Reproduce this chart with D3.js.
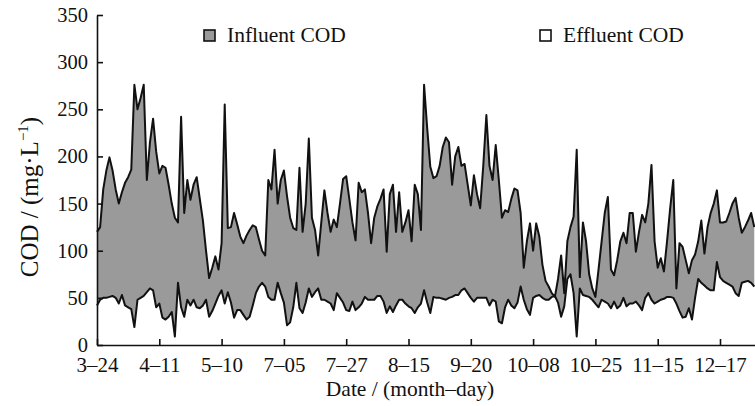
<!DOCTYPE html>
<html>
<head>
<meta charset="utf-8">
<script src="https://cdn.jsdelivr.net/npm/d3@7"></script>
<style>
  body { margin: 0; background: #fff; }
  svg { display: block; font-family: "Liberation Serif", "DejaVu Serif", serif; }
  .axis path, .axis line { stroke: #111; stroke-width: 1.6px; }
  .axis text { fill: #111; font-family: "Liberation Serif", serif; }
</style>
</head>
<body>
<div id="chart"></div>
<script>
// tick labels, one every 20 samples
const dateLabels = ['3\u201324', '4\u201311', '5\u201310', '7\u201305', '7\u201327', '8\u201315',
                    '9\u201320', '10\u201308', '10\u201325', '11\u201315', '12\u201317'];
const yTicks = [0, 50, 100, 150, 200, 250, 300, 350];

// influent COD, mg/L, one value per sample
const influent = [
  120, 125, 165, 185, 199, 185, 165, 150, 162, 172, 178, 186, 276, 250, 262, 276, 175, 215, 240, 205,
  182, 190, 188, 170, 150, 135, 130, 242, 140, 175, 154, 170, 178, 155, 132, 100, 71, 82, 94, 80,
  108, 255, 124, 125, 140, 128, 115, 108, 116, 122, 127, 125, 112, 100, 95, 175, 165, 207, 150, 175,
  185, 158, 135, 124, 122, 188, 120, 150, 219, 135, 122, 95, 130, 164, 140, 120, 133, 125, 150, 176,
  179, 155, 130, 111, 172, 162, 165, 140, 108, 135, 147, 155, 165, 99, 160, 170, 120, 162, 120, 130,
  143, 110, 170, 160, 122, 276, 230, 189, 177, 179, 190, 210, 220, 215, 170, 200, 210, 190, 192, 170,
  148, 180, 160, 145, 190, 244, 190, 175, 212, 175, 135, 143, 141, 155, 166, 164, 140, 82, 110, 129,
  100, 129, 115, 85, 68, 62, 55, 51, 70, 95, 55, 110, 125, 136, 207, 72, 130, 110, 75, 60,
  51, 80, 110, 140, 157, 80, 74, 90, 110, 119, 108, 140, 140, 99, 120, 138, 130, 150, 191, 110,
  82, 92, 78, 110, 145, 175, 60, 108, 104, 90, 76, 90, 96, 110, 132, 97, 125, 140, 150, 164,
  130, 130, 131, 140, 150, 156, 135, 119, 125, 132, 140, 125
];

// effluent COD, mg/L
const effluent = [
  42, 48, 50, 50, 51, 52, 50, 44, 53, 42, 40, 38, 19, 48, 50, 52, 56, 60, 58, 40,
  44, 29, 27, 30, 35, 9, 66, 40, 30, 48, 42, 48, 40, 39, 42, 48, 30, 36, 44, 52,
  58, 44, 56, 45, 29, 37, 37, 32, 27, 30, 42, 55, 62, 66, 62, 51, 48, 48, 66, 55,
  45, 21, 24, 40, 66, 39, 34, 45, 60, 51, 56, 60, 48, 48, 46, 44, 37, 55, 50, 45,
  37, 36, 46, 37, 40, 44, 51, 48, 48, 48, 52, 52, 46, 34, 41, 35, 42, 48, 48, 44,
  41, 39, 34, 40, 44, 58, 45, 34, 51, 50, 50, 49, 48, 50, 51, 53, 53, 58, 60, 55,
  50, 46, 50, 50, 50, 50, 42, 48, 46, 25, 23, 40, 48, 42, 39, 45, 62, 48, 38, 32,
  50, 52, 53, 50, 48, 48, 51, 52, 45, 30, 41, 70, 75, 55, 9, 60, 53, 52, 51, 48,
  44, 40, 48, 46, 44, 39, 46, 39, 42, 50, 41, 44, 44, 46, 42, 37, 50, 55, 48, 44,
  46, 48, 49, 51, 51, 50, 44, 36, 29, 30, 39, 27, 50, 70, 66, 63, 60, 58, 58, 88,
  72, 68, 66, 64, 62, 55, 52, 66, 67, 68, 66, 62
];

const width = 755;
const height = 406;
const margin = {top: 15, left: 97, bottom: 61};
const tickEvery = 20;
const plotH = height - margin.top - margin.bottom;

const svg = d3.select('#chart')
              .append('svg')
              .attr('width', width)
              .attr('height', height);

const g = svg.append('g')
             .attr('transform', `translate(${margin.left}, ${margin.top})`);

// sample index -> x; the last tick (12-17) sits at sample 200
const xScale = d3.scaleLinear()
                 .domain([0, (dateLabels.length - 1) * tickEvery])
                 .range([0, 623]);
const xAxisScale = xScale.copy().domain([0, xScale.invert(width - margin.left)])
                                .range([0, width - margin.left]);

const yScale = d3.scaleLinear()
                 .domain([0, 350])
                 .range([plotH, 0]);

// grey band between effluent and influent
const band = d3.area()
               .x((d, i) => xScale(i))
               .y0((d, i) => yScale(effluent[i]))
               .y1(d => yScale(d));

g.append('path')
 .datum(influent)
 .attr('fill', '#9a9a9a')
 .attr('d', band);

const line = d3.line()
               .x((d, i) => xScale(i))
               .y(d => yScale(d));

[influent, effluent].forEach(series => {
  g.append('path')
   .datum(series)
   .attr('fill', 'none')
   .attr('stroke', '#111')
   .attr('stroke-width', 2)
   .attr('stroke-linejoin', 'round')
   .attr('d', line);
});

// x axis, ticks pointing inside
g.append('g')
 .attr('class', 'axis')
 .attr('transform', `translate(0, ${plotH})`)
 .call(
   d3.axisBottom(xAxisScale)
     .tickValues(dateLabels.map((d, i) => i * tickEvery))
     .tickFormat((d, i) => dateLabels[i])
     .tickSizeInner(-6)
     .tickSizeOuter(0)
     .tickPadding(8)
 )
 .selectAll('text')
 .attr('font-size', 21)
 .attr('dy', '0.92em');

// y axis
g.append('g')
 .attr('class', 'axis')
 .call(
   d3.axisLeft(yScale)
     .tickValues(yTicks)
     .tickSizeInner(-6)
     .tickSizeOuter(0)
     .tickPadding(9)
 )
 .selectAll('text')
 .attr('font-size', 20.5);

// axis titles
const yTitle = svg.append('text')
                  .attr('transform', 'translate(38, 197) rotate(-90)')
                  .attr('text-anchor', 'middle')
                  .attr('font-size', 25)
                  .attr('fill', '#111');
yTitle.append('tspan').text('COD / (mg\u00b7L');
yTitle.append('tspan').attr('font-size', 15).attr('dy', -10).text('\u22121');
yTitle.append('tspan').attr('dy', 10).text(')');

svg.append('text')
   .attr('x', 410)
   .attr('y', 396)
   .attr('text-anchor', 'middle')
   .attr('font-size', 21.5)
   .attr('fill', '#111')
   .text('Date / (month\u2013day)');

// legend
const legendItems = [
  {label: 'Influent COD', fill: '#9a9a9a', x: 204},
  {label: 'Effluent COD', fill: '#fff', x: 540}
];
const legend = svg.selectAll('.legend')
                  .data(legendItems)
                  .join('g')
                  .attr('class', 'legend')
                  .attr('transform', d => `translate(${d.x}, 30)`);
legend.append('rect')
      .attr('width', 11)
      .attr('height', 11)
      .attr('fill', d => d.fill)
      .attr('stroke', '#111')
      .attr('stroke-width', 1.6);
legend.append('text')
      .attr('x', 23)
      .attr('y', 12)
      .attr('font-size', 21.5)
      .attr('fill', '#111')
      .text(d => d.label);
</script>
</body>
</html>
